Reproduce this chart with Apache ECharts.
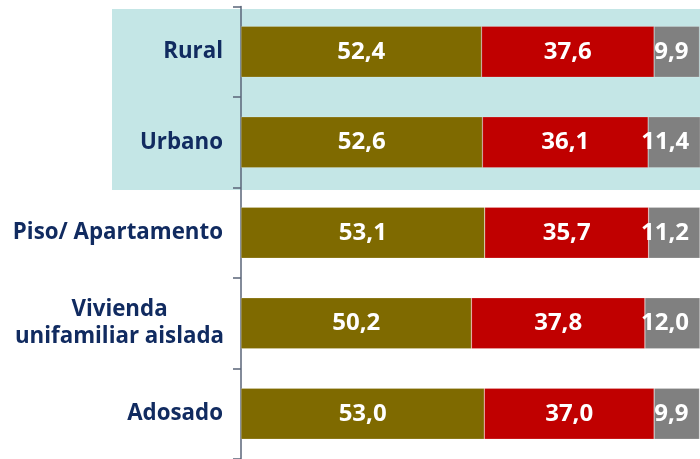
<!DOCTYPE html>
<html>
<head>
<meta charset="utf-8">
<script src="https://cdn.jsdelivr.net/npm/echarts@6/dist/echarts.min.js"></script>
<style>
html,body{margin:0;padding:0;background:#fff;}
#chart{width:700px;height:459px;}
</style>
</head>
<body>
<div id="chart"></div>
<script>
const categories = ['Rural', 'Urbano', 'Piso/ Apartamento', 'Vivienda\nunifamiliar aislada', 'Adosado'];
const seriesA = [52.4, 52.6, 53.1, 50.2, 53.0];
const seriesB = [37.6, 36.1, 35.7, 37.8, 37.0];
const seriesC = [9.9, 11.4, 11.2, 12.0, 9.9];

const fmt = p => p.value.toFixed(1).replace('.', ',');
const labelStyle = {
  show: true,
  color: '#fff',
  fontFamily: 'Open Sans',
  fontWeight: 'bold',
  fontSize: 24,
  formatter: fmt
};
const catFont = {
  color: '#112B60',
  fontFamily: 'Open Sans',
  fontWeight: 'bold',
  fontSize: 22.3,
  lineHeight: 27
};

const chart = echarts.init(document.getElementById('chart'));
chart.setOption({
  animation: false,
  backgroundColor: '#fff',
  graphic: [{
    type: 'rect',
    z: -10,
    shape: { x: 112, y: 9, width: 600, height: 181 },
    style: { fill: '#C4E6E6' }
  }],
  grid: { left: 241, top: 6.5, width: 462, height: 455, containLabel: false },
  xAxis: {
    type: 'value', min: 0, max: 100, show: false
  },
  yAxis: {
    type: 'category',
    data: categories,
    inverse: true,
    axisLine: { show: true, lineStyle: { color: '#5A6478', width: 1.5 } },
    axisTick: { show: true, length: 8, lineStyle: { color: '#5A6478', width: 1.5 } },
    axisLabel: Object.assign({
      margin: 18,
      align: 'right',
      formatter: v => v.indexOf('\n') >= 0
        ? v.split('\n').map(s => '{c|' + s + '}').join('\n')
        : v,
      rich: { c: Object.assign({ width: 207, align: 'center' }, catFont) }
    }, catFont),
    splitLine: { show: false }
  },
  series: [
    {
      type: 'bar', stack: 't', data: seriesA, barWidth: 51,
      itemStyle: { color: '#7F6A00', borderColor: 'rgba(255,255,255,0.4)', borderWidth: 0.5 },
      label: Object.assign({ position: 'inside' }, labelStyle)
    },
    {
      type: 'bar', stack: 't', data: seriesB, barWidth: 51,
      itemStyle: { color: '#C00000', borderColor: 'rgba(255,255,255,0.4)', borderWidth: 0.5 },
      label: Object.assign({ position: 'inside' }, labelStyle)
    },
    {
      type: 'bar', stack: 't', data: seriesC, barWidth: 51,
      itemStyle: { color: '#808080', borderColor: 'rgba(255,255,255,0.4)', borderWidth: 0.5 },
      label: Object.assign({ position: 'insideRight', distance: 11 }, labelStyle)
    }
  ]
});
</script>
</body>
</html>
